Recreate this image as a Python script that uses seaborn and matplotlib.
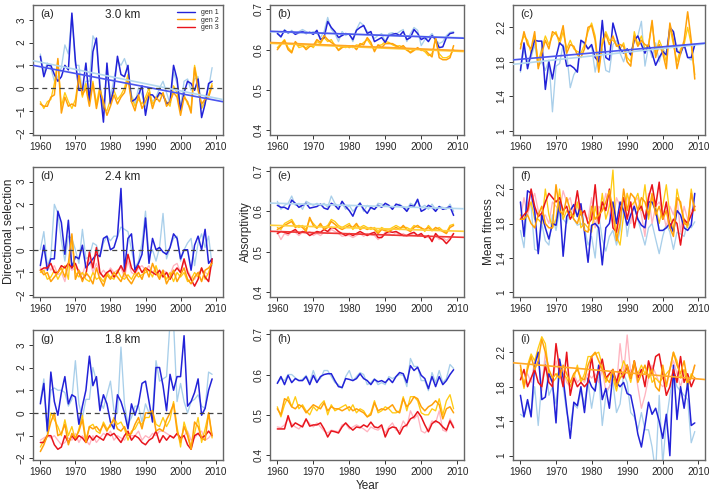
import matplotlib
matplotlib.use("Agg")
import matplotlib.pyplot as plt
import numpy as np
import seaborn as sns
from matplotlib.lines import Line2D

years = list(range(1960, 2010))

# ---- (a) directional selection, 3.0 km
a_gen1 = [1.4, 0.5, 1.0, 1.0, 0.6, 0.3, 0.5, 1.0, 0.8, 3.3, 1.2, -0.1, -0.1, 1.1, -0.6, 1.6, 2.2, 0.0, -1.5, 1.1,
          -0.7, 0.0, 1.4, 0.6, 0.5, 1.0, -0.6, -0.5, -0.3, 0.1, -1.2, -0.3, -0.3, -0.5, -0.2, -0.3, -0.7, -0.6, 1.0, 0.4,
          -1.0, -0.2, 0.3, 0.2, -0.1, 0.4, -1.3, -0.7, 0.2, 0.3]
a_gen1_lt = [1.5, 0.7, 1.1, 0.9, 0.3, 0.5, 0.9, 1.9, 1.5, 3.2, 1.0, 1.0, -0.2, 0.3, 0.3, 2.3, 2.0, 0.2, -0.9, 0.9,
             -0.4, 0.4, 1.2, 1.0, 1.3, 0.8, -0.3, -0.7, 0.0, -0.3, -0.8, -0.3, -0.6, -0.4, 0.0, 0.3, -0.2, -0.7, 0.7, 0.2,
             -0.9, 0.3, 0.4, -0.1, 0.4, 0.5, -0.9, -0.4, 0.0, 0.9]
a_gen2 = [-0.7, -0.8, -0.8, -0.4, -0.3, 1.3, -1.1, -0.4, -0.8, -0.7, -0.8, 0.6, -0.3, 0.0, -0.8, 0.2, -0.9, -0.1, -0.6, -1.2,
          -0.8, -0.3, -0.7, -0.4, -0.2, 0.4, -0.6, -1.0, -0.3, -0.9, -0.6, -0.2, -0.9, -0.4, -0.6, -0.2, -0.8, -0.6, -0.2, -0.4,
          -1.2, -0.4, -0.6, -1.1, 0.9, -0.1, -0.7, -0.5, -0.4, 0.1]
a_gen2_lt = [-0.6, -0.9, -0.6, -0.5, 0.2, 1.2, -0.8, -0.2, -0.6, -0.9, -0.5, 0.5, -0.4, 0.2, -0.6, 0.3, -0.7, 0.1, -0.9, -1.0,
             -0.5, -0.1, -0.5, -0.3, 0.0, 0.6, -0.4, -0.8, -0.5, -0.7, -0.4, 0.0, -0.7, -0.5, -0.3, -0.3, -0.6, -0.8, 0.1, -0.2,
             -1.0, -0.3, -0.7, -0.9, 1.0, 0.2, -0.9, -0.6, -0.3, 0.2]
a_trend_gen1 = [0.94, -0.54]      # fitted values at 1960 and 2010
a_trend_gen1_lt = [1.14, -0.44]

# ---- (b) absorptivity, 3.0 km
b_gen1 = [0.640, 0.632, 0.648, 0.642, 0.645, 0.638, 0.642, 0.645, 0.640, 0.643, 0.638, 0.648, 0.625, 0.630, 0.670, 0.655, 0.645, 0.630, 0.635, 0.640,
          0.638, 0.625, 0.648, 0.655, 0.660, 0.640, 0.645, 0.620, 0.625, 0.630, 0.618, 0.635, 0.638, 0.640, 0.635, 0.645, 0.625, 0.630, 0.650, 0.640,
          0.625, 0.630, 0.620, 0.635, 0.625, 0.605, 0.607, 0.630, 0.640, 0.642]
b_gen1_lt = [0.645, 0.630, 0.650, 0.640, 0.648, 0.640, 0.645, 0.650, 0.645, 0.640, 0.645, 0.640, 0.630, 0.645, 0.680, 0.650, 0.640, 0.620, 0.645, 0.635,
             0.640, 0.620, 0.650, 0.668, 0.660, 0.645, 0.640, 0.628, 0.635, 0.640, 0.620, 0.640, 0.642, 0.638, 0.645, 0.650, 0.620, 0.640, 0.655, 0.648,
             0.610, 0.625, 0.630, 0.640, 0.625, 0.615, 0.620, 0.635, 0.643, 0.645]
b_gen2 = [0.600, 0.612, 0.622, 0.600, 0.592, 0.620, 0.610, 0.612, 0.600, 0.608, 0.610, 0.625, 0.618, 0.635, 0.625, 0.618, 0.612, 0.598, 0.605, 0.610,
          0.605, 0.610, 0.600, 0.615, 0.612, 0.630, 0.618, 0.595, 0.612, 0.605, 0.615, 0.615, 0.615, 0.610, 0.605, 0.610, 0.600, 0.592, 0.598, 0.605,
          0.598, 0.600, 0.590, 0.582, 0.630, 0.580, 0.575, 0.575, 0.580, 0.610]
b_gen2_lt = [0.605, 0.615, 0.625, 0.605, 0.595, 0.618, 0.605, 0.608, 0.605, 0.612, 0.605, 0.620, 0.615, 0.630, 0.620, 0.625, 0.610, 0.600, 0.608, 0.605,
             0.610, 0.605, 0.612, 0.610, 0.618, 0.625, 0.612, 0.600, 0.610, 0.612, 0.620, 0.618, 0.612, 0.608, 0.610, 0.605, 0.598, 0.595, 0.600, 0.602,
             0.600, 0.595, 0.585, 0.590, 0.625, 0.590, 0.580, 0.580, 0.585, 0.600]
b_trend_gen1 = [0.645, 0.629]
b_trend_gen1_lt = [0.644, 0.630]
b_trend_gen2 = [0.617, 0.598]
b_trend_gen2_lt = [0.615, 0.596]

# ---- (c) mean fitness, 3.0 km
c_gen1 = [1.70, 2.02, 1.72, 1.90, 2.05, 2.04, 2.04, 1.48, 1.80, 1.60, 1.85, 2.02, 1.98, 1.75, 1.76, 1.73, 1.68, 2.05, 2.02, 1.95,
          2.00, 1.85, 1.80, 2.28, 1.85, 1.82, 2.25, 2.10, 1.95, 1.90, 1.95, 1.88, 2.05, 2.10, 2.00, 1.90, 2.00, 1.90, 1.76, 1.85,
          1.92, 1.88, 2.20, 2.15, 1.92, 1.90, 2.00, 1.85, 1.85, 2.00]
c_gen1_lt = [1.68, 1.95, 1.80, 1.85, 2.00, 1.75, 1.80, 1.70, 1.82, 1.22, 1.75, 1.78, 2.00, 1.90, 1.50, 1.65, 1.72, 2.05, 2.00, 1.95,
             1.98, 1.68, 1.90, 1.95, 1.70, 1.68, 2.00, 2.05, 1.90, 1.80, 1.95, 1.90, 2.05, 2.10, 2.27, 1.75, 1.98, 1.85, 2.02, 1.80,
             1.95, 1.90, 2.18, 2.15, 1.95, 1.88, 2.02, 1.85, 1.82, 2.00]
c_gen2 = [1.95, 2.15, 2.00, 1.95, 2.15, 1.72, 1.90, 2.05, 1.95, 2.15, 2.12, 2.05, 2.22, 1.90, 2.00, 1.98, 1.88, 1.85, 1.95, 2.20,
          2.22, 2.05, 1.68, 2.00, 2.12, 2.00, 2.10, 1.98, 2.00, 1.98, 1.80, 1.75, 2.10, 1.98, 2.05, 2.00, 1.98, 2.28, 1.85, 2.00,
          1.90, 1.72, 2.25, 2.05, 1.72, 1.90, 2.05, 2.38, 2.05, 1.60]
c_gen2_lt = [2.00, 2.10, 2.05, 1.90, 2.10, 1.80, 1.95, 2.10, 2.00, 2.10, 2.15, 2.00, 2.15, 1.95, 2.05, 1.95, 1.92, 1.90, 2.00, 2.15,
             2.25, 2.10, 1.72, 2.05, 2.15, 2.05, 2.05, 2.00, 1.95, 2.02, 1.85, 1.80, 2.15, 2.00, 2.10, 1.95, 2.00, 2.25, 1.90, 2.05,
             1.95, 1.80, 2.20, 2.00, 1.80, 1.95, 2.00, 2.20, 2.00, 1.65]
c_trend_gen1 = [1.83, 2.01]
c_trend_gen1_lt = [1.78, 2.00]

# ---- (d) directional selection, 2.4 km
d_gen1 = [-0.7, 0.2, -0.9, -0.4, -0.4, 1.7, 1.2, -0.2, 1.3, -0.8, -0.3, -0.4, 0.2, -0.8, -0.6, -0.4, -0.2, -0.3, 0.5, 0.6,
          0.0, 0.1, 0.6, 2.7, -0.9, 0.5, 0.7, -0.9, -0.6, -0.2, 1.4, -0.6, 0.5, 0.0, 0.1, -0.1, -0.2, 0.1, 0.7, 0.5,
          -0.4, 0.0, 0.0, -0.9, 0.2, 0.6, 0.0, 0.9, -0.6, -0.4]
d_gen1_lt = [0.0, 0.8, -0.7, -0.3, 2.0, 1.6, 0.4, -0.5, 0.6, 0.5, 0.0, -0.6, 0.9, -0.4, -0.3, 0.3, 0.2, -0.3, 0.3, 0.6,
             0.4, 0.6, 0.6, 1.0, 0.9, 0.8, 0.0, -0.8, -0.5, 0.3, 1.7, -0.3, 0.0, -0.5, 0.1, 1.6, -0.4, 0.1, 0.5, 0.6,
             -0.5, 0.0, 0.3, 0.5, -0.7, 0.3, 0.7, 0.1, 0.6, -0.7]
d_gen2 = [-0.9, -1.1, -1.0, -1.4, -1.2, -1.0, -0.8, -1.2, -0.6, 0.7, -1.3, -0.9, -1.4, -1.0, -1.2, -1.5, -0.8, -1.3, -1.6, -1.1,
          -1.3, -1.0, -1.2, -1.4, -1.0, -1.3, -1.5, -1.2, -1.0, -1.3, -0.8, -1.2, -0.6, -1.0, -1.3, -0.9, -1.5, -1.2, -0.9, -1.4,
          -1.1, -0.8, -1.3, -1.5, -1.2, -1.0, -1.4, -0.9, -0.8, -0.6]
d_gen2_lt = [-1.0, -0.9, -1.3, -1.2, -0.9, -1.3, -1.0, -0.7, -1.3, 0.6, -1.0, -1.2, -1.0, -1.3, -1.4, -1.0, -1.3, -1.2, -1.4, -1.0,
             -1.2, -1.3, -0.9, -1.2, -1.3, -1.1, -1.3, -1.0, -1.2, -1.1, -1.0, -0.9, -1.2, -0.7, -1.2, -1.0, -1.3, -1.0, -1.4, -1.0,
             -1.2, -1.0, -1.4, -1.3, -1.0, -1.2, -0.8, -1.3, -1.0, -0.5]
d_gen3 = [-0.9, -0.8, -0.8, -0.6, -1.0, -1.0, -0.7, -0.8, -0.6, -0.8, -0.6, -1.0, -1.3, -1.1, -0.1, -0.8, 0.1, -1.0, -1.2, -1.0,
          -0.9, -1.2, -1.0, -0.7, -1.0, -0.2, -0.8, -1.0, -0.7, -1.0, -0.8, -0.9, -1.0, -1.1, -0.9, -1.2, -1.0, -1.3, -1.0, -0.8,
          -1.0, -0.4, -1.0, -1.3, -1.6, -1.3, -0.8, -1.2, -1.4, -0.4]
d_gen3_lt = [-0.8, -1.0, -0.6, -0.9, -0.7, -1.1, -1.0, -1.4, -0.7, -0.9, -0.8, -0.9, -1.1, -0.6, -0.4, -1.0, -0.6, -1.1, -0.9, -1.1,
             -0.8, -1.0, -0.9, -0.8, -1.2, -0.5, -1.0, -1.1, -0.8, -0.7, -0.9, -0.7, -1.0, -0.8, -1.1, -0.9, -1.0, -1.1, -0.7, -0.6,
             -1.0, -0.5, -0.9, -1.2, -1.3, -1.0, -0.9, -1.0, -1.1, -0.5]

# ---- (e) absorptivity, 2.4 km
e_gen1 = [0.615, 0.610, 0.610, 0.605, 0.628, 0.620, 0.610, 0.615, 0.620, 0.608, 0.610, 0.612, 0.618, 0.608, 0.605, 0.620, 0.615, 0.605, 0.625, 0.612,
          0.602, 0.588, 0.610, 0.620, 0.605, 0.595, 0.610, 0.605, 0.615, 0.610, 0.620, 0.615, 0.605, 0.618, 0.615, 0.610, 0.600, 0.615, 0.612, 0.630,
          0.600, 0.605, 0.615, 0.610, 0.600, 0.612, 0.605, 0.608, 0.612, 0.590]
e_gen1_lt = [0.625, 0.605, 0.615, 0.620, 0.638, 0.615, 0.620, 0.605, 0.625, 0.620, 0.615, 0.620, 0.615, 0.620, 0.610, 0.638, 0.620, 0.612, 0.620, 0.605,
             0.615, 0.600, 0.610, 0.622, 0.600, 0.615, 0.608, 0.605, 0.620, 0.618, 0.615, 0.612, 0.610, 0.615, 0.618, 0.610, 0.605, 0.620, 0.615, 0.625,
             0.610, 0.615, 0.605, 0.618, 0.605, 0.612, 0.610, 0.605, 0.618, 0.600]
e_gen2 = [0.555, 0.560, 0.565, 0.570, 0.575, 0.560, 0.565, 0.560, 0.550, 0.585, 0.565, 0.558, 0.570, 0.555, 0.560, 0.575, 0.568, 0.560, 0.555, 0.560,
          0.565, 0.560, 0.570, 0.555, 0.560, 0.555, 0.560, 0.555, 0.545, 0.555, 0.552, 0.550, 0.555, 0.560, 0.555, 0.565, 0.555, 0.550, 0.560, 0.565,
          0.558, 0.555, 0.560, 0.552, 0.560, 0.555, 0.550, 0.545, 0.560, 0.565]
e_gen2_lt = [0.560, 0.555, 0.570, 0.575, 0.580, 0.565, 0.560, 0.565, 0.555, 0.580, 0.570, 0.560, 0.565, 0.560, 0.565, 0.580, 0.575, 0.565, 0.560, 0.565,
             0.570, 0.555, 0.565, 0.560, 0.565, 0.560, 0.555, 0.560, 0.550, 0.560, 0.555, 0.555, 0.560, 0.565, 0.560, 0.560, 0.560, 0.555, 0.565, 0.560,
             0.560, 0.550, 0.565, 0.555, 0.555, 0.560, 0.552, 0.548, 0.565, 0.568]
e_gen3 = [0.545, 0.550, 0.548, 0.545, 0.550, 0.555, 0.545, 0.550, 0.548, 0.540, 0.545, 0.550, 0.548, 0.555, 0.550, 0.560, 0.558, 0.550, 0.545, 0.540,
          0.545, 0.540, 0.545, 0.550, 0.545, 0.540, 0.545, 0.548, 0.535, 0.535, 0.545, 0.550, 0.548, 0.550, 0.545, 0.540, 0.540, 0.545, 0.548, 0.540,
          0.545, 0.535, 0.540, 0.525, 0.545, 0.535, 0.530, 0.520, 0.530, 0.545]
e_gen3_lt = [0.548, 0.530, 0.545, 0.540, 0.550, 0.548, 0.540, 0.548, 0.545, 0.550, 0.540, 0.545, 0.540, 0.548, 0.545, 0.555, 0.550, 0.545, 0.538, 0.540,
             0.540, 0.535, 0.540, 0.545, 0.538, 0.545, 0.542, 0.540, 0.530, 0.538, 0.548, 0.545, 0.540, 0.548, 0.540, 0.545, 0.538, 0.542, 0.545, 0.540,
             0.540, 0.538, 0.535, 0.530, 0.540, 0.530, 0.535, 0.528, 0.535, 0.545]
e_trend_gen1_lt = [0.620, 0.607]
e_trend_gen2_lt = [0.565, 0.551]
e_trend_gen3 = [0.550, 0.536]

# ---- (f) mean fitness, 2.4 km
f_gen1 = [2.05, 1.65, 2.18, 2.15, 1.95, 1.45, 1.90, 1.75, 1.62, 1.80, 1.78, 2.05, 1.42, 1.88, 1.95, 2.02, 1.88, 2.03, 1.70, 1.35,
          1.78, 1.80, 1.75, 1.32, 1.75, 1.80, 2.05, 1.80, 2.05, 1.95, 1.78, 1.90, 2.00, 1.85, 1.78, 1.75, 2.05, 2.05, 1.95, 1.72,
          1.72, 1.75, 1.80, 1.70, 1.95, 1.90, 1.75, 1.72, 1.78, 2.15]
f_gen1_lt = [1.72, 1.52, 2.05, 2.00, 1.50, 1.48, 1.80, 1.60, 1.55, 1.90, 1.72, 1.95, 1.85, 1.80, 1.95, 1.85, 1.78, 1.80, 1.75, 1.55,
             1.65, 1.40, 1.90, 1.62, 1.48, 1.65, 1.72, 1.55, 1.72, 2.10, 1.65, 1.90, 1.98, 1.85, 1.70, 1.55, 1.75, 1.80, 1.62, 1.45,
             1.65, 1.80, 1.70, 1.50, 1.70, 1.68, 1.65, 1.82, 1.75, 1.82]
f_gen2 = [1.85, 1.85, 1.90, 1.80, 1.75, 1.90, 2.00, 1.80, 1.75, 1.75, 2.25, 1.95, 1.90, 2.10, 1.95, 1.85, 1.80, 1.95, 1.72, 1.70,
          2.00, 1.85, 1.90, 1.95, 2.05, 2.18, 1.95, 1.60, 1.80, 2.20, 1.95, 2.15, 2.10, 1.95, 2.10, 2.05, 1.90, 2.15, 1.90, 2.00,
          1.85, 1.95, 1.75, 1.65, 2.10, 2.05, 1.80, 1.78, 2.15, 1.95]
f_gen2_lt = [1.90, 1.85, 1.95, 2.05, 1.85, 1.85, 1.80, 2.20, 1.90, 1.75, 1.85, 2.20, 1.85, 1.95, 1.90, 1.88, 2.05, 1.75, 1.80, 1.75,
             1.70, 2.00, 1.80, 2.15, 1.85, 2.00, 2.42, 1.65, 1.55, 1.90, 2.15, 2.00, 2.05, 2.15, 1.95, 2.25, 1.85, 2.10, 2.00, 1.80,
             2.00, 2.25, 1.90, 1.70, 2.20, 2.00, 1.85, 1.75, 2.20, 1.95]
f_gen3 = [1.85, 1.90, 1.95, 2.20, 2.00, 1.88, 1.92, 2.05, 2.15, 2.10, 2.05, 2.10, 1.95, 2.00, 1.85, 1.92, 2.18, 1.90, 1.95, 1.80,
          1.85, 2.25, 1.80, 2.05, 1.95, 2.20, 1.75, 1.70, 1.95, 2.10, 1.85, 2.05, 1.75, 1.95, 2.00, 1.85, 2.10, 2.25, 2.00, 2.28,
          1.85, 2.05, 1.75, 1.85, 1.80, 1.55, 1.85, 1.80, 1.90, 2.00]
f_gen3_lt = [1.85, 2.10, 1.90, 2.05, 2.15, 1.95, 1.85, 1.90, 1.80, 2.05, 2.00, 1.95, 2.18, 2.05, 2.10, 1.90, 2.00, 1.95, 1.90, 1.85,
             2.10, 1.75, 2.00, 1.95, 2.15, 1.90, 1.80, 2.10, 2.00, 1.95, 2.15, 1.80, 2.05, 2.10, 1.90, 1.65, 2.15, 1.80, 2.00, 2.05,
             1.95, 1.75, 2.00, 1.90, 2.10, 1.70, 2.00, 1.85, 1.95, 2.00]

# ---- (g) directional selection, 1.8 km
g_gen1 = [0.4, 1.3, -0.8, 1.8, 0.5, -0.1, 0.9, 1.6, 0.4, 0.8, 0.7, -0.5, 0.3, 1.0, 2.5, 1.2, 1.6, 0.1, 0.8, 0.4,
          -0.4, -0.7, 0.8, 0.5, 0.0, -0.7, 0.4, -0.1, 0.4, 1.3, 1.4, 0.5, -0.4, 2.0, 2.0, 1.2, 0.1, 1.7, 1.0, 1.6,
          1.6, 3.4, 0.3, 0.5, 0.9, 1.5, -0.1, 0.2, 1.0, 1.5]
g_gen1_lt = [0.5, 1.5, -0.9, 1.0, 1.1, 1.0, 1.0, 0.9, 0.3, 0.6, 2.3, 0.4, -0.2, 0.6, 0.6, 2.0, 1.4, 0.5, 0.2, 0.8,
             1.4, 0.1, 0.0, 2.9, 0.4, -0.5, -0.2, 0.3, 0.3, -0.4, 0.4, 0.0, 0.0, 2.3, 1.4, 1.5, 1.6, 4.0, 4.0, 0.5,
             1.3, 0.5, 0.0, 0.5, 0.6, 0.8, 0.3, 0.2, 1.8, 1.7]
g_gen2 = [-1.7, -1.4, -1.0, -0.4, 0.0, -1.0, -0.9, -0.5, -1.4, -0.9, -1.1, -0.8, -0.3, -1.3, -0.6, -0.7, -0.6, -0.8, -0.5, -0.8,
          -0.5, -0.3, -0.7, -0.8, -0.6, -1.0, -0.9, -0.5, -0.2, -0.7, 0.0, 0.0, 0.1, -0.8, -0.7, -0.8, -0.3, 0.0, 0.4, -0.8,
          -1.3, -0.6, -1.0, -1.6, -0.4, -0.6, -1.1, -1.2, 0.0, -1.0]
g_gen2_lt = [-1.5, -1.2, -1.0, 0.0, -0.3, -0.6, -1.0, -0.3, -1.0, -0.6, -1.2, -0.7, -0.1, -1.2, -0.6, -0.5, -0.8, -0.9, -0.4, -0.7,
             -0.6, -0.2, -0.5, -0.4, -0.7, -1.2, -0.8, -0.7, -0.4, -0.5, -0.2, -0.2, 0.1, -0.5, -0.6, -0.2, -0.6, -0.3, 0.5, -0.6,
             -1.5, -0.4, -0.9, -1.5, -0.9, -0.2, -1.3, -0.7, 0.0, -1.1]
g_gen3 = [-1.3, -1.3, -1.0, -1.0, -1.4, -1.6, -1.5, -1.0, -1.3, -1.0, -1.2, -1.0, -1.1, -1.3, -1.0, -1.2, -1.0, -1.1, -1.2, -0.9,
          -1.0, -0.9, -1.1, -1.3, -1.0, -0.8, -1.2, -1.0, -1.1, -1.3, -1.4, -1.2, -1.1, -0.8, -1.3, -1.0, -1.2, -1.0, -1.1, -0.9,
          -1.1, -1.0, -1.4, -1.6, -1.0, -0.9, -1.1, -1.0, -0.8, -1.0]
g_gen3_lt = [-1.2, -1.1, -1.0, -1.1, -1.0, -1.2, -1.4, -1.3, -1.1, -1.2, -0.9, -1.3, -1.0, -1.2, -1.4, -1.0, -1.3, -1.1, -0.9, -1.0,
             -0.8, -1.2, -1.0, -1.1, -1.2, -0.9, -1.0, -1.0, -0.8, -1.2, -1.0, -1.1, -0.9, -1.0, -0.8, -0.8, -0.9, -1.0, -1.1, -0.9,
             -1.2, -1.0, -0.8, -1.2, -1.1, -0.9, -0.8, -1.2, -1.1, -0.9]

# ---- (h) absorptivity, 1.8 km
h_gen1 = [0.578, 0.595, 0.575, 0.598, 0.580, 0.590, 0.585, 0.585, 0.595, 0.575, 0.598, 0.580, 0.595, 0.600, 0.602, 0.602, 0.585, 0.570, 0.568, 0.590,
          0.588, 0.585, 0.590, 0.602, 0.590, 0.585, 0.575, 0.588, 0.582, 0.585, 0.580, 0.590, 0.580, 0.595, 0.605, 0.602, 0.580, 0.622, 0.610, 0.618,
          0.598, 0.590, 0.565, 0.595, 0.570, 0.595, 0.575, 0.585, 0.600, 0.612]
h_gen1_lt = [0.580, 0.590, 0.585, 0.600, 0.600, 0.592, 0.585, 0.588, 0.598, 0.580, 0.610, 0.585, 0.590, 0.610, 0.610, 0.595, 0.580, 0.575, 0.565, 0.595,
             0.610, 0.585, 0.595, 0.605, 0.600, 0.575, 0.580, 0.590, 0.575, 0.580, 0.575, 0.595, 0.590, 0.595, 0.600, 0.598, 0.570, 0.640, 0.620, 0.620,
             0.585, 0.585, 0.560, 0.605, 0.580, 0.610, 0.580, 0.590, 0.625, 0.615]
h_gen2 = [0.515, 0.500, 0.540, 0.535, 0.520, 0.515, 0.525, 0.520, 0.505, 0.515, 0.525, 0.520, 0.515, 0.530, 0.510, 0.520, 0.515, 0.515, 0.510, 0.515,
          0.520, 0.510, 0.515, 0.510, 0.505, 0.495, 0.500, 0.530, 0.510, 0.515, 0.512, 0.518, 0.525, 0.510, 0.505, 0.540, 0.520, 0.530, 0.545, 0.540,
          0.520, 0.510, 0.520, 0.525, 0.535, 0.525, 0.490, 0.515, 0.520, 0.505]
h_gen2_lt = [0.520, 0.495, 0.525, 0.545, 0.520, 0.545, 0.515, 0.525, 0.510, 0.500, 0.520, 0.510, 0.525, 0.535, 0.500, 0.525, 0.510, 0.515, 0.520, 0.525,
             0.510, 0.525, 0.505, 0.515, 0.510, 0.495, 0.505, 0.535, 0.505, 0.510, 0.520, 0.515, 0.505, 0.505, 0.510, 0.545, 0.510, 0.545, 0.545, 0.535,
             0.505, 0.500, 0.500, 0.515, 0.510, 0.540, 0.500, 0.535, 0.550, 0.515]
h_gen3 = [0.465, 0.465, 0.465, 0.498, 0.470, 0.480, 0.475, 0.470, 0.490, 0.472, 0.475, 0.475, 0.480, 0.465, 0.445, 0.460, 0.458, 0.455, 0.470, 0.480,
          0.470, 0.462, 0.470, 0.468, 0.475, 0.470, 0.482, 0.470, 0.468, 0.475, 0.445, 0.465, 0.470, 0.468, 0.452, 0.470, 0.475, 0.490, 0.495, 0.508,
          0.495, 0.475, 0.458, 0.478, 0.485, 0.480, 0.470, 0.462, 0.485, 0.468]
h_gen3_lt = [0.470, 0.468, 0.475, 0.490, 0.478, 0.470, 0.465, 0.475, 0.488, 0.478, 0.470, 0.480, 0.470, 0.460, 0.455, 0.462, 0.460, 0.458, 0.475, 0.478,
             0.465, 0.470, 0.475, 0.470, 0.465, 0.458, 0.470, 0.465, 0.462, 0.470, 0.455, 0.470, 0.480, 0.462, 0.460, 0.485, 0.470, 0.510, 0.490, 0.500,
             0.460, 0.455, 0.465, 0.485, 0.480, 0.510, 0.462, 0.458, 0.490, 0.472]

# ---- (i) mean fitness, 1.8 km
i_gen1 = [1.70, 1.45, 1.65, 1.45, 2.05, 2.20, 1.65, 1.68, 1.95, 1.85, 1.38, 2.12, 1.90, 1.55, 1.20, 1.62, 1.58, 1.80, 1.50, 1.90,
          1.80, 1.75, 2.05, 1.65, 1.78, 1.55, 1.95, 1.85, 1.80, 1.85, 1.72, 1.70, 1.50, 1.25, 1.10, 1.35, 1.62, 1.48, 1.55, 1.40,
          1.20, 1.48, 1.00, 2.05, 1.42, 1.80, 1.55, 1.85, 1.35, 1.38]
i_gen1_lt = [1.48, 1.45, 1.60, 1.50, 1.80, 1.35, 1.85, 2.10, 1.70, 1.80, 1.60, 1.95, 1.80, 1.50, 1.35, 1.60, 1.55, 1.75, 1.60, 1.85,
             1.55, 1.80, 1.95, 1.35, 1.70, 1.80, 1.85, 1.50, 1.60, 1.95, 1.85, 1.50, 1.45, 1.30, 1.50, 1.30, 1.30, 1.10, 0.80, 1.70,
             0.90, 1.40, 1.70, 1.95, 1.80, 1.75, 1.70, 1.65, 1.15, 1.28]
i_gen2 = [2.05, 1.80, 2.00, 2.15, 2.00, 2.10, 2.35, 2.20, 2.00, 1.90, 1.95, 1.90, 2.05, 1.95, 1.85, 1.95, 2.00, 1.90, 1.88, 2.05,
          2.15, 2.20, 2.10, 2.00, 1.90, 1.85, 2.00, 1.80, 1.90, 1.95, 2.05, 1.90, 2.10, 1.85, 1.95, 2.05, 1.90, 2.00, 1.80, 1.75,
          2.05, 1.80, 2.00, 2.20, 2.05, 1.95, 2.10, 1.85, 1.90, 2.05]
i_gen2_lt = [2.00, 1.78, 2.05, 2.18, 2.10, 2.25, 2.38, 2.30, 1.95, 1.85, 1.90, 2.00, 1.95, 1.90, 1.80, 1.90, 2.05, 1.85, 1.95, 2.15,
             2.15, 2.18, 2.20, 2.05, 1.85, 1.95, 1.90, 1.75, 1.95, 2.10, 2.00, 1.85, 2.05, 1.95, 2.05, 1.95, 2.05, 1.85, 1.90, 1.85,
             1.90, 1.95, 2.00, 2.20, 2.10, 1.90, 2.00, 1.80, 1.95, 1.90]
i_gen3 = [1.88, 2.00, 1.80, 1.90, 2.00, 1.85, 1.80, 2.05, 1.85, 1.80, 2.30, 2.00, 1.80, 2.20, 1.70, 1.90, 1.80, 1.85, 1.80, 1.85,
          2.15, 1.85, 1.98, 2.12, 1.90, 1.95, 2.00, 1.85, 2.00, 1.90, 2.05, 1.90, 2.10, 1.90, 2.00, 1.80, 2.10, 1.95, 2.15, 2.18,
          1.95, 1.70, 1.80, 2.00, 1.85, 2.15, 1.85, 1.95, 1.80, 1.90]
i_gen3_lt = [1.95, 1.85, 1.95, 1.85, 2.10, 2.15, 1.75, 2.20, 1.90, 1.85, 2.10, 1.95, 2.00, 1.85, 1.80, 1.95, 1.85, 1.90, 1.85, 1.95,
             1.90, 1.95, 1.85, 2.00, 1.75, 1.80, 1.95, 1.80, 2.30, 1.95, 2.40, 1.95, 2.05, 1.80, 1.55, 1.70, 1.90, 2.05, 1.95, 1.85,
             1.80, 1.85, 2.00, 2.10, 1.95, 1.80, 1.95, 1.85, 1.90, 2.05]
i_trend_gen2 = [2.07, 1.89]

panel_letters = ["(a)", "(b)", "(c)", "(d)", "(e)", "(f)", "(g)", "(h)", "(i)"]
site_labels = ["3.0 km", "2.4 km", "1.8 km"]
col_ylabels = ["Directional selection", "Absorptivity", "Mean fitness"]
legend_labels = ["gen 1", "gen 2", "gen 3"]

# colours
C_G1, C_G1L = "#2222D8", "#A9CFEA"
C_G2, C_G2L = "#FFA10A", "#FFCB12"
C_G3, C_G3L = "#E8141C", "#FFB4C0"
col = {"g1": C_G1, "g1l": C_G1L, "g2": C_G2, "g2l": C_G2L, "g3": C_G3, "g3l": C_G3L}
trend_col = {"g1": "#4A55EE", "g1l": "#B3D7EE", "g2": "#FFA726", "g2l": "#FFCF3A", "g3": "#EE3535"}

panels = [
    {"g1l": a_gen1_lt, "g1": a_gen1, "g2l": a_gen2_lt, "g2": a_gen2},
    {"g1l": b_gen1_lt, "g1": b_gen1, "g2l": b_gen2_lt, "g2": b_gen2},
    {"g1l": c_gen1_lt, "g1": c_gen1, "g2l": c_gen2_lt, "g2": c_gen2},
    {"g1l": d_gen1_lt, "g1": d_gen1, "g3l": d_gen3_lt, "g3": d_gen3, "g2l": d_gen2_lt, "g2": d_gen2},
    {"g1l": e_gen1_lt, "g1": e_gen1, "g3l": e_gen3_lt, "g3": e_gen3, "g2l": e_gen2_lt, "g2": e_gen2},
    {"g1l": f_gen1_lt, "g1": f_gen1, "g3l": f_gen3_lt, "g3": f_gen3, "g2l": f_gen2_lt, "g2": f_gen2},
    {"g1l": g_gen1_lt, "g1": g_gen1, "g3l": g_gen3_lt, "g3": g_gen3, "g2l": g_gen2_lt, "g2": g_gen2},
    {"g1l": h_gen1_lt, "g1": h_gen1, "g3l": h_gen3_lt, "g3": h_gen3, "g2l": h_gen2_lt, "g2": h_gen2},
    {"g1l": i_gen1_lt, "g1": i_gen1, "g3l": i_gen3_lt, "g3": i_gen3, "g2l": i_gen2_lt, "g2": i_gen2},
]
trends = [
    {"g1l": a_trend_gen1_lt, "g1": a_trend_gen1},
    {"g1l": b_trend_gen1_lt, "g1": b_trend_gen1, "g2l": b_trend_gen2_lt, "g2": b_trend_gen2},
    {"g1l": c_trend_gen1_lt, "g1": c_trend_gen1},
    {},
    {"g1l": e_trend_gen1_lt, "g2l": e_trend_gen2_lt, "g3": e_trend_gen3},
    {}, {}, {},
    {"g2": i_trend_gen2},
]

sns.set_style("ticks")
plt.rcParams["font.family"] = ["Liberation Sans", "DejaVu Sans"]

fig = plt.figure(figsize=(7.09, 4.93), dpi=100)
col_left = [0.047, 0.381, 0.724]
col_w = [0.267, 0.274, 0.271]
row_bottom = [0.726, 0.398, 0.067]
row_h = 0.264
ylims = [(-2.07, 3.66), (0.388, 0.711), (0.95, 2.46)]
yticks = [[-2, -1, 0, 1, 2, 3], [0.4, 0.5, 0.6, 0.7], [1.0, 1.4, 1.8, 2.2]]
yticklabels = [["\u22122", "\u22121", "0", "1", "2", "3"], ["0.4", "0.5", "0.6", "0.7"], ["1", "1.4", "1.8", "2.2"]]

frame_col = "#666666"
for k in range(9):
    r, c = divmod(k, 3)
    ax = fig.add_axes([col_left[c], row_bottom[r], col_w[c], row_h])
    for key, vals in panels[k].items():
        lw = 1.1 if key in ("g1", "g2", "g3") else 0.95
        sns.lineplot(x=years, y=vals, ax=ax, color=col[key], lw=lw, zorder=3 if len(key) == 2 else 2)
    for key, tv in trends[k].items():
        ax.axline((1960, tv[0]), (2010, tv[1]), color=trend_col[key], lw=1.2, zorder=4)
    if c == 0:
        ax.axhline(0, ls=(0, (4, 3)), color="#444444", lw=0.9, zorder=5)
    ax.set_xlim(1958, 2012)
    ax.set_ylim(*ylims[c])
    ax.set_xticks([1960, 1970, 1980, 1990, 2000, 2010])
    ax.set_yticks(yticks[c])
    ax.set_yticklabels(yticklabels[c], rotation=90, va="center")
    ax.tick_params(axis="both", labelsize=7.2, length=3, width=0.7, color="#333333", pad=2)
    for s in ax.spines.values():
        s.set_color(frame_col)
        s.set_linewidth(1.0)
    ax.text(0.035, 0.965, panel_letters[k], transform=ax.transAxes, ha="left", va="top", fontsize=8)
    if c == 0:
        ax.text(0.38, 0.965, site_labels[r], transform=ax.transAxes, ha="left", va="top", fontsize=8.5)
    if r == 1:
        ax.set_ylabel(col_ylabels[c], fontsize=8.5, labelpad=1)
    else:
        ax.set_ylabel("")
    if r == 2 and c == 1:
        ax.set_xlabel("Year", fontsize=8.5, labelpad=2)
    else:
        ax.set_xlabel("")
    if k == 0:
        handles = [Line2D([0], [0], color=C_G1, lw=1.0),
                   Line2D([0], [0], color=C_G2, lw=1.0),
                   Line2D([0], [0], color=C_G3, lw=1.0)]
        ax.legend(handles, legend_labels, loc="upper right", fontsize=5, frameon=False,
                  handlelength=2.6, handletextpad=0.8, labelspacing=0.1, borderaxespad=0.2)

fig.savefig("out.png", dpi=100)
